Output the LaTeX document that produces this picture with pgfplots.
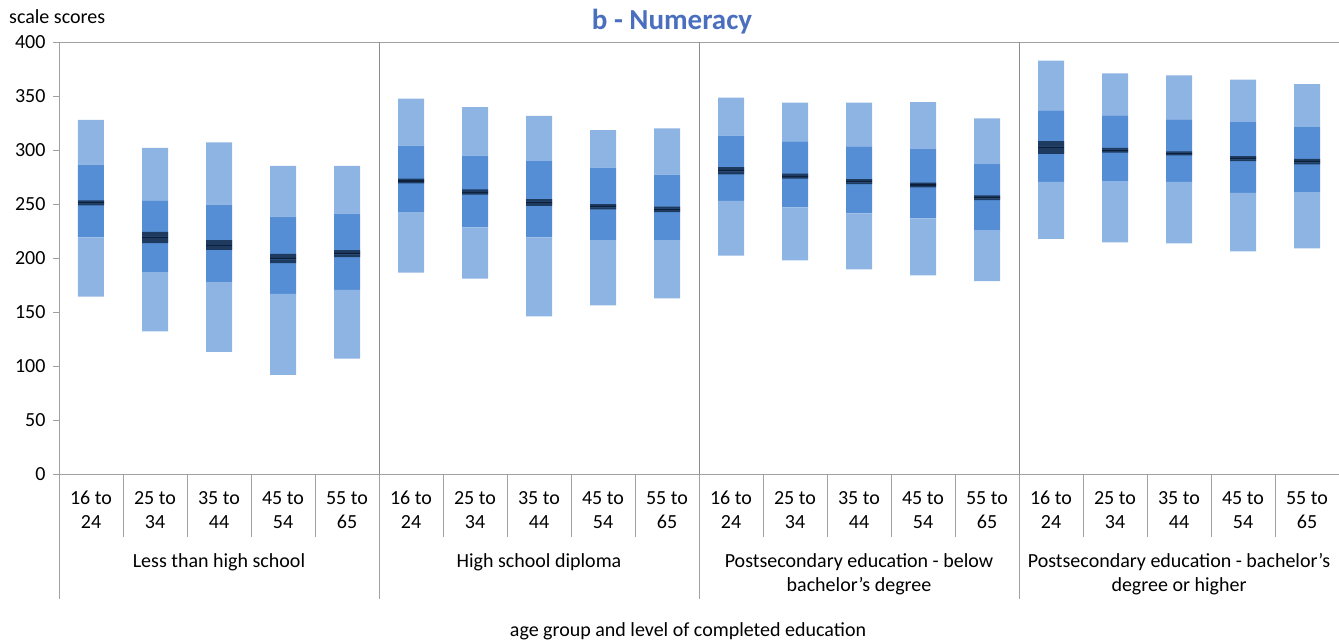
\documentclass[border=0pt]{standalone}
\usepackage{fontspec}
\setmainfont{Carlito}
\usepackage{pgfplots}
\usepackage{pgfplotstable}
\pgfplotsset{compat=1.18}
\usetikzlibrary{calc}

\definecolor{lightbar}{HTML}{8EB4E3}
\definecolor{midbar}{HTML}{558ED5}
\definecolor{meandark}{HTML}{1F3A5F}
\definecolor{meanline}{HTML}{0C1E38}
\definecolor{titleblue}{HTML}{4A6FBE}
\definecolor{axisgray}{HTML}{A0A0A0}
\definecolor{sepgray}{HTML}{8C8C8C}

% x, 5th pct, 25th pct, mean, half CI, 75th pct, 95th pct
\pgfplotstableread{
x  p5    p25   mean  ci   p75   p95
0  164.2 219.2 251.0 2.3  286.4 327.8
1  132.1 186.4 219.0 5.2  252.8 301.9
2  113.0 177.1 212.0 4.5  249.4 307.1
3  91.7  166.7 199.5 4.3  238.3 285.2
4  106.8 170.4 204.0 3.2  241.0 285.2
5  186.4 242.0 271.3 2.2  304.0 347.5
6  180.9 228.4 261.1 2.5  294.8 339.8
7  146.0 219.2 251.4 3.2  289.8 331.5
8  156.2 216.1 247.5 2.5  283.6 318.5
9  162.6 216.0 245.0 2.5  277.2 320.0
10 202.2 252.8 280.8 3.4  313.3 348.5
11 197.8 246.9 275.8 2.3  308.0 343.8
12 189.5 241.3 270.8 2.3  303.4 343.8
13 183.9 236.7 267.6 2.2  300.9 344.4
14 178.7 225.9 255.9 2.2  287.0 329.3
15 217.6 270.4 302.4 5.9  336.7 382.7
16 214.5 271.3 299.7 2.2  332.1 371.0
17 213.6 270.4 296.9 1.9  328.4 369.1
18 206.2 260.2 292.1 2.3  325.9 365.1
19 209.0 261.1 289.2 2.5  321.3 361.1
}\scores

\newcommand\lbl{\fontsize{20}{22}\selectfont}

\begin{document}
\begin{tikzpicture}[x=1pt,y=1pt]
\pgfplotsset{
  base/.style={
    scale only axis, width=1280pt, height=432pt,
    xmin=-0.5, xmax=19.5, ymin=0, ymax=400,
    ybar stacked, bar width=26pt,
  }
}
\begin{axis}[
  base,
  name=main,
  axis line style={draw=axisgray},
  xtick=\empty,
  ytick={0,50,...,400},
  ytick pos=left,
  tick align=outside,
  major tick length=6pt,
  ytick style={draw=axisgray},
  yticklabel style={font=\lbl, xshift=-4pt},
  /pgf/number format/assume math mode=true,
]
\addplot[draw=none, fill=none] table[x=x, y=p5] {\scores};
\addplot[fill=lightbar, draw=none] table[x=x, y expr=\thisrow{p25}-\thisrow{p5}] {\scores};
\addplot[fill=midbar, draw=none] table[x=x, y expr=\thisrow{p75}-\thisrow{p25}] {\scores};
\addplot[fill=lightbar, draw=none] table[x=x, y expr=\thisrow{p95}-\thisrow{p75}] {\scores};
\coordinate (O) at (rel axis cs:0,0);
\end{axis}

% mean with confidence band
\begin{axis}[base, hide axis, at={(O)}, anchor=south west]
\addplot[draw=none, fill=none] table[x=x, y expr=\thisrow{mean}-\thisrow{ci}] {\scores};
\addplot[fill=meandark, draw=none] table[x=x, y expr=\thisrow{ci}-0.7] {\scores};
\addplot[fill=meanline, draw=none] table[x=x, y expr=1.4] {\scores};
\addplot[fill=meandark, draw=none] table[x=x, y expr=\thisrow{ci}-0.7] {\scores};
\end{axis}

\pgfresetboundingbox
\useasboundingbox ($(O)+(-59,-167)$) rectangle ++(1339,641);

\begin{scope}[shift={($(O)+(-59,-167)$)}]
% separators
\foreach \k in {1,2,3,4,6,7,8,9,11,12,13,14,16,17,18,19}
  \draw[axisgray] ({59+64*\k},167) -- ({59+64*\k},104);
\foreach \k in {0,5,10,15,20}
  \draw[axisgray] ({59+64*\k},167) -- ({59+64*\k},42);
\foreach \k in {5,10,15}
  \draw[sepgray] ({59+64*\k},167) -- ({59+64*\k},599);

% category labels
\foreach \k/\a/\b in {0/16/24,1/25/34,2/35/44,3/45/54,4/55/65}
  \foreach \g in {0,1,2,3} {
    \node[anchor=base, inner sep=0, font=\lbl] at ({91+64*\k+320*\g},137) {\a{} to};
    \node[anchor=base, inner sep=0, font=\lbl] at ({91+64*\k+320*\g},113) {\b};
  }

\begin{scope}[every node/.style={anchor=base, inner sep=0, font=\lbl}]
\node at (219,74) {Less than high school};
\node at (539,74) {High school diploma};
\node at (859,74) {Postsecondary education - below};
\node at (859,50) {bachelor’s degree};
\node at (1179,74) {Postsecondary education - bachelor’s};
\node at (1179,50) {degree or higher};
\node at (688,5) {age group and level of completed education};
\node[anchor=base west] at (9,617) {scale scores};
\end{scope}

\node[anchor=base, inner sep=0, font=\fontsize{29}{32}\selectfont\bfseries, text=titleblue] at (672,611) {b - Numeracy};
\end{scope}
\end{tikzpicture}
\end{document}
